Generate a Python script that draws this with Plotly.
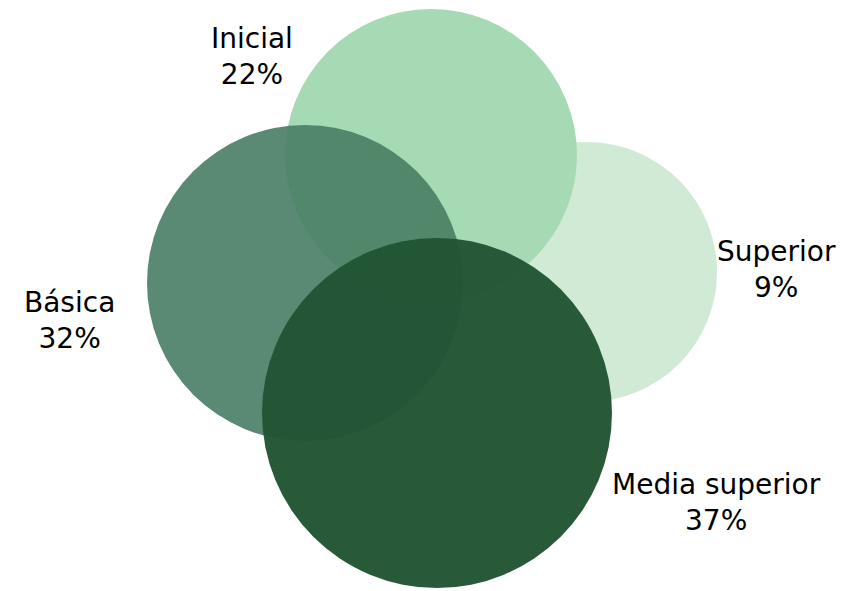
import plotly.graph_objects as go

# Education level shares (%)
levels = ["Inicial", "Superior", "Básica", "Media superior"]
shares = [22, 9, 32, 37]

# Bubble layout in pixel units (center x, center y, radius)
centers_x = [431, 587, 305, 437]
centers_y = [155, 272, 283, 413]
radii = [146, 130, 158, 175]
fills = [
    "rgba(166,218,180,1.0)",
    "rgba(208,234,214,1.0)",
    "rgba(74,126,101,0.91)",
    "rgba(33,85,52,0.97)",
]

# Label anchor points (pixel units)
label_x = [252, 776, 69, 716]
label_y = [56, 269, 320, 502]

W, H = 853, 591

fig = go.Figure()

draw_order = [1, 0, 2, 3]  # Superior behind Inicial, then Básica, Media superior on top
shapes = []
for i in draw_order:
    shapes.append(dict(
        type="circle", xref="x", yref="y",
        x0=centers_x[i] - radii[i], x1=centers_x[i] + radii[i],
        y0=centers_y[i] - radii[i], y1=centers_y[i] + radii[i],
        fillcolor=fills[i], line=dict(width=0), layer="below",
    ))

annotations = []
for name, val, lx, ly in zip(levels, shares, label_x, label_y):
    annotations.append(dict(
        x=lx, y=ly, xref="x", yref="y",
        text=f"{name}<br>{val}%", showarrow=False,
        xanchor="center", yanchor="middle", align="center",
        font=dict(family="DejaVu Sans, Arial, sans-serif", size=28, color="#000000"),
    ))

# invisible trace so the axes exist
fig.add_trace(go.Scatter(x=[0, W], y=[0, H], mode="markers",
                         marker=dict(opacity=0), hoverinfo="skip", showlegend=False))

fig.update_layout(
    width=W, height=H,
    margin=dict(l=0, r=0, t=0, b=0),
    paper_bgcolor="white", plot_bgcolor="white",
    shapes=shapes, annotations=annotations,
    xaxis=dict(range=[0, W], visible=False, fixedrange=True),
    yaxis=dict(range=[H, 0], visible=False, fixedrange=True),
    showlegend=False,
)

fig.write_html("out.html", config={"displayModeBar": False})
